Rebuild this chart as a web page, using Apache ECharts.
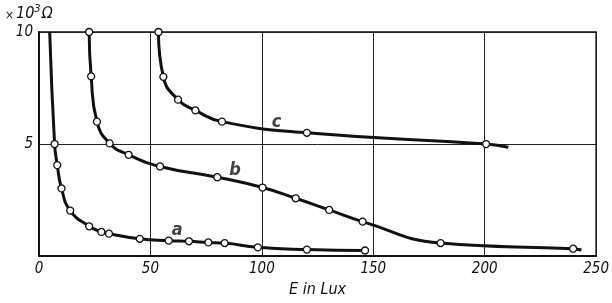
<!DOCTYPE html>
<html>
<head>
<meta charset="utf-8">
<script src="https://cdn.jsdelivr.net/npm/echarts@6/dist/echarts.min.js"></script>
<style>
  html, body { margin: 0; padding: 0; background: #fff; }
  #chart { width: 612px; height: 303px; }
</style>
</head>
<body>
<div id="chart"></div>
<script>
// Widerstand (x10^3 Ohm) gegen Beleuchtungsstaerke E (Lux), Kurven a, b, c
// Punkte ohne Marker (Kurvenanfang/-ende) stehen in den *Open-/*End-Listen
const curveA = [[7, 5], [8.2, 4.06], [10.1, 3.02], [14, 2.03], [22.5, 1.33], [28, 1.08], [31.4, 1.0],
  [45.2, 0.77], [58.2, 0.69], [67.3, 0.66], [76, 0.61], [83.3, 0.58], [98.2, 0.39], [120.2, 0.29], [146.3, 0.25]]
const curveAOpen = [[4.8, 10]]
const curveB = [[22.5, 10], [23.4, 8.02], [26, 6.0], [31.7, 5.03], [40.2, 4.52], [54.3, 4.0], [80, 3.52],
  [100.3, 3.06], [115.2, 2.58], [130.2, 2.06], [145.2, 1.54], [180.2, 0.58], [239.7, 0.33]]
const curveBEnd = [[243.4, 0.27]]
const curveC = [[53.6, 10], [55.8, 8.0], [62.4, 6.98], [70.2, 6.5], [82.1, 6.0], [120.2, 5.5], [200.6, 5.0]]
const curveCEnd = [[210.6, 4.86]]
const curveNames = ['a', 'b', 'c']
const labelPts = [[62, 1.13], [88, 3.81], [106.6, 5.97]]
const xTicks = [0, 50, 100, 150, 200, 250]
const yTicks = [5, 10]

const font = '"DejaVu Sans Condensed", "Liberation Sans Narrow", sans-serif'

const chart = echarts.init(document.getElementById('chart'), null, { renderer: 'canvas' })

// Datenpunkte: mit Marker bzw. ohne Marker
const withMarks = pts => pts.map(p => ({ value: p }))
const noMarks = pts => pts.map(p => ({ value: p, symbol: 'none' }))

const lineSeries = (data) => ({
  type: 'line',
  data: data,
  smooth: 0.5,
  symbol: 'circle',
  symbolSize: 7,
  showAllSymbol: true,
  lineStyle: { color: '#111', width: 3 },
  itemStyle: { color: '#fff', borderColor: '#111', borderWidth: 1.3 },
  z: 3,
  silent: true,
  animation: false
})

const option = {
  animation: false,
  grid: {
    left: 39, right: 12, top: 32, bottom: 40,
    show: true, borderColor: '#111', borderWidth: 1.5
  },
  xAxis: {
    type: 'value',
    min: 0, max: 250, interval: 50,
    name: 'E in Lux',
    nameLocation: 'middle',
    nameGap: 25,
    nameTextStyle: { fontFamily: font, fontStyle: 'italic', fontSize: 16, color: '#111' },
    axisLine: { show: true, lineStyle: { color: '#111', width: 2 } },
    axisTick: { show: false },
    axisLabel: {
      margin: 6, fontFamily: font, fontStyle: 'italic', fontSize: 15, color: '#111',
      formatter: v => xTicks.includes(v) ? String(v) : ''
    },
    splitLine: { show: true, lineStyle: { color: '#222', width: 1 } }
  },
  yAxis: {
    type: 'value',
    min: 0, max: 10, interval: 5,
    axisLine: { show: true, lineStyle: { color: '#111', width: 2 } },
    axisTick: { show: false },
    axisLabel: {
      margin: 6, fontFamily: font, fontStyle: 'italic', fontSize: 15, color: '#111',
      formatter: v => yTicks.includes(v) ? String(v) : ''
    },
    splitLine: { show: true, lineStyle: { color: '#222', width: 1 } }
  },
  graphic: [{
    type: 'text',
    left: 5, top: 4,
    style: {
      text: '{x|×}{n|10}{s|3}{n|Ω}',
      rich: {
        x: { font: '12px ' + font, fill: '#111', padding: [4, 2, 0, 0] },
        n: { font: 'italic 16px ' + font, fill: '#111' },
        s: { font: 'italic 11px ' + font, fill: '#111', padding: [0, 1, 8, 0] }
      }
    }
  }],
  series: [
    lineSeries(noMarks(curveAOpen).concat(withMarks(curveA))),
    lineSeries(withMarks(curveB).concat(noMarks(curveBEnd))),
    lineSeries(withMarks(curveC).concat(noMarks(curveCEnd))),
    {
      type: 'scatter',
      symbol: 'circle',
      symbolSize: 1,
      itemStyle: { color: 'rgba(0,0,0,0)' },
      silent: true,
      data: labelPts.map((p, i) => ({ value: p, name: curveNames[i] })),
      label: {
        show: true, position: 'inside', formatter: '{b}',
        fontFamily: font, fontStyle: 'italic', fontWeight: 'bold', fontSize: 18, color: '#111'
      },
      z: 4
    }
  ]
}

chart.setOption(option)
window.addEventListener('resize', () => chart.resize())
</script>
</body>
</html>
